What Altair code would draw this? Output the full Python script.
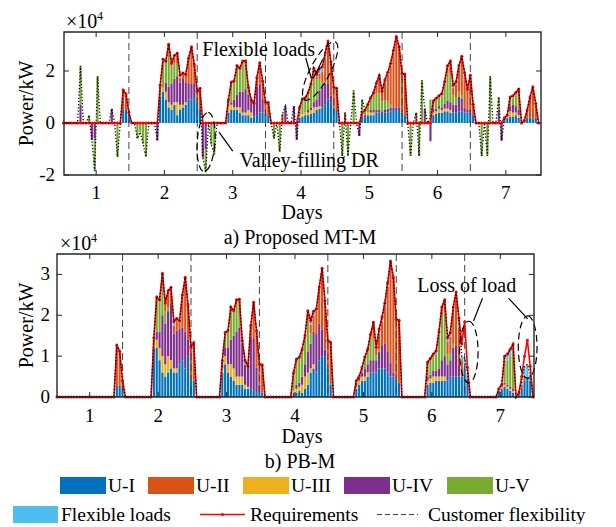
import altair as alt
import pandas as pd

FONT = "Liberation Serif"
UNITS = ["U-I", "U-II", "U-III", "U-IV", "U-V", "Flexible loads"]
COLORS = ["#0072BD", "#D95319", "#EDB120", "#7E2F8E", "#77AC30", "#4DBEEE"]
STACK_ORDER = ["U-I", "U-III", "U-IV", "U-V", "U-II", "Flexible loads"]
DAYS = [1, 2, 3, 4, 5, 6, 7]
FLEX_BOUNDS = [1.48, 2.48, 3.48, 4.48, 5.48, 6.48]
TOP_YTICKS = [-2, 0, 2]
BOT_YTICKS = [0, 1, 2, 3]

# requirement (x1e4 kW), keyed by first hour of each block
REQ = {
    21: [1.27, 1.12, 0.4],
    34: [1.45, 2.45, 2.38, 3.03, 2.3, 2.6, 2.68, 1.85, 1.92, 1.87, 2.5, 2.93, 2.25, 1.22, 1.33],
    58: [0.89, 1.58, 1.62, 2.2, 2.11, 2.38, 2.39, 1.38, 0.89, 0.76, 1.75, 2.32, 1.62, 0.8, 0.79],
    83: [0.6, 0.93, 0.97, 1.17, 1.5, 2.11, 1.87, 2.1, 2.16, 2.69, 3.15, 2.36, 1.38, 1.34],
    105: [0.4, 0.5, 0.72, 0.98, 1.17, 1.54, 1.83, 1.22, 1.66, 1.95, 2.3, 2.8, 3.33, 2.93, 1.9, 1.88],
    130: [0.85, 0.95, 1.05, 1.13, 1.6, 2.2, 2.38, 1.45, 1.58, 2.2, 2.57, 1.93, 1.3, 1.84, 0.72],
    155: [0.2, 0.3, 1.0, 1.05, 1.17, 1.3, 0.0, 0.1, 0.5, 1.0, 1.39, 0.75],
}

# hourly output per unit [U-I, U-II, U-III, U-IV, U-V, Flexible loads] - a) MT-M
TOP_MIX = {
    21: [[0.5, 0.77, 0, 0, 0, 0], [0.5, 0.62, 0, 0, 0, 0], [0.3, 0.1, 0, 0, 0, 0]],
    34: [[1.0, 0, 0, 0, 0.45, 0], [1.2, 0, 0.15, 0, 1.1, 0], [0.9, 0, 0.3, 0.35, 0.83, 0],
         [0.6, 0.1, 0.2, 0.6, 1.53, 0], [0.5, 0.1, 0.2, 0.8, 0.7, 0], [0.7, 0.2, 0.1, 0.9, 0.6, 0.1],
         [0.3, 0.3, 0.5, 1.0, 0.48, 0.1], [0.5, 0.2, 0.2, 0.85, 0, 0.1], [0.6, 0.2, 0.1, 1.02, 0, 0],
         [0.7, 0.3, 0.1, 0.77, 0, 0], [0.9, 1.0, 0, 0.6, 0, 0], [0.9, 1.43, 0, 0.6, 0, 0],
         [1.0, 0.75, 0, 0.5, 0, 0], [0.8, 0.42, 0, 0, 0, 0], [0.5, 0.83, 0, 0, 0, 0]],
    58: [[0.4, 0, 0.2, 0, 0.29, 0], [0.5, 0, 0.2, 0.1, 0.78, 0], [0.5, 0, 0.1, 0.3, 0.72, 0],
         [0.5, 0, 0.1, 0.5, 1.1, 0], [0.4, 0, 0.2, 0.6, 0.91, 0], [0.3, 0, 0.1, 0.8, 1.18, 0],
         [0.3, 0.1, 0.1, 0.9, 0.99, 0], [0.3, 0.1, 0.2, 0.6, 0.18, 0], [0.2, 0, 0.2, 0.49, 0, 0],
         [0.25, 0, 0, 0.51, 0, 0], [0.3, 0.35, 0, 1.1, 0, 0], [0.4, 0.8, 0, 1.12, 0, 0],
         [0.4, 0.7, 0, 0.52, 0, 0], [0.35, 0.45, 0, 0, 0, 0], [0.3, 0.49, 0, 0, 0, 0]],
    83: [[0.2, 0, 0.1, 0, 0.3, 0], [0.25, 0, 0.1, 0, 0.58, 0], [0.3, 0, 0.1, 0, 0.57, 0],
         [0.3, 0, 0.1, 0.1, 0.67, 0], [0.35, 0, 0.15, 0.1, 0.9, 0], [0.4, 0, 0.2, 0.2, 1.21, 0.1],
         [0.5, 0.1, 0.1, 0.3, 0.77, 0.1], [0.55, 0.2, 0.1, 0.6, 0.45, 0.2], [0.6, 0.4, 0, 0.8, 0.16, 0.2],
         [0.7, 0.9, 0, 0.8, 0.09, 0.2], [0.9, 1.5, 0, 0.6, 0, 0.15], [0.8, 1.3, 0, 0.26, 0, 0],
         [0.6, 0.78, 0, 0, 0, 0], [0.5, 0.84, 0, 0, 0, 0]],
    105: [[0.2, 0, 0, 0.1, 0.1, 0], [0.2, 0, 0, 0.1, 0.2, 0], [0.3, 0, 0.1, 0, 0.32, 0],
          [0.3, 0, 0.1, 0.1, 0.48, 0], [0.3, 0.1, 0.1, 0.1, 0.57, 0], [0.4, 0.3, 0, 0.1, 0.64, 0.1],
          [0.4, 0.6, 0, 0.1, 0.63, 0.1], [0.35, 0.4, 0, 0.1, 0.37, 0], [0.4, 0.7, 0, 0.1, 0.36, 0.1],
          [0.4, 1.0, 0, 0.15, 0.3, 0.1], [0.45, 1.5, 0, 0.15, 0.1, 0.1], [0.5, 2.1, 0, 0.1, 0, 0.1],
          [0.5, 2.73, 0, 0.1, 0, 0], [0.5, 2.33, 0, 0.1, 0, 0], [0.4, 1.5, 0, 0, 0, 0], [0.3, 1.58, 0, 0, 0, 0]],
    130: [[0.3, 0, 0.1, 0.15, 0.3, 0], [0.35, 0, 0.1, 0.1, 0.4, 0], [0.4, 0, 0.15, 0.1, 0.4, 0],
          [0.4, 0, 0.1, 0.1, 0.43, 0.1], [0.45, 0, 0.1, 0.2, 0.75, 0.1], [0.45, 0.2, 0.1, 0.3, 1.05, 0.1],
          [0.4, 0.4, 0.1, 0.3, 1.08, 0.1], [0.4, 0.3, 0, 0.3, 0.35, 0.1], [0.4, 0.5, 0, 0.3, 0.28, 0.1],
          [0.45, 0.9, 0, 0.55, 0.2, 0.1], [0.45, 1.4, 0, 0.5, 0.1, 0.12], [0.4, 1.2, 0, 0.2, 0, 0.13],
          [0.4, 0.8, 0, 0.1, 0, 0], [0.4, 1.34, 0, 0.1, 0, 0], [0.3, 0.42, 0, 0, 0, 0]],
    155: [[0.2, 0, 0, 0, 0, 0], [0.2, 0, 0.1, 0, 0, 0], [0.25, 0, 0.2, 0.2, 0.35, 0],
          [0.25, 0, 0.15, 0.3, 0.25, 0.1], [0.3, 0, 0.1, 0.25, 0.42, 0.1], [0.2, 0, 0.1, 0.2, 0.7, 0.1],
          [0, 0, 0, 0, 0, 0], [0.1, 0, 0, 0, 0, 0], [0.2, 0.3, 0, 0, 0, 0], [0.2, 0.8, 0, 0, 0, 0],
          [0.15, 1.24, 0, 0, 0, 0], [0.2, 0.55, 0, 0, 0, 0]],
}

# valley-filling DR actions in a): (hour, unit index, value)
TOP_DR = [
    (6, 3, 0.7), (6, 4, 1.5), (9, 4, 0.3), (10, 3, -0.65), (11, 3, -0.6), (11, 4, -1.25),
    (12, 4, 1.8), (17, 3, 0.55), (19, 4, -1.3),
    (26, 4, -0.6), (27, 4, -0.35), (28, 4, -0.8), (29, 4, -1.3), (33, 3, -0.68),
    (49, 3, -1.34), (50, 3, -1.0), (50, 4, -0.9), (52, 4, -0.83), (53, 4, -1.21),
    (74, 4, -0.6), (76, 4, -1.1), (77, 1, 0.35), (78, 3, 0.65), (81, 3, 0.65), (82, 3, -0.65),
    (98, 4, -1.27), (99, 1, 0.4), (100, 4, -1.27), (102, 4, 1.25), (104, 3, -0.5), (105, 4, 0.5),
    (122, 4, -1.27), (124, 1, 0.4), (125, 4, -1.27), (126, 4, 1.64), (127, 3, 0.55),
    (129, 3, -0.7), (129, 4, 0.9),
    (147, 4, -1.27), (149, 4, -1.27), (150, 4, 1.8), (153, 3, 0.5), (153, 4, 0.5), (154, 3, -0.68),
]

# b) PB-M
BOT_MIX = {
    21: [[0.27, 1.0, 0, 0, 0, 0], [0.27, 0.85, 0, 0, 0, 0], [0.2, 0.2, 0, 0, 0, 0]],
    34: [[1.2, 0, 0.1, 0, 0.15, 0], [1.2, 0, 0.2, 0.2, 0.85, 0], [0.9, 0, 0.3, 0.4, 0.78, 0],
         [0.6, 0, 0.4, 1.0, 0.93, 0.1], [0.5, 0.2, 0.3, 1.0, 0.3, 0], [0.6, 0.4, 0.4, 1.1, 0.1, 0],
         [0.7, 0.3, 0.2, 1.38, 0, 0.1], [0.6, 0.2, 0.1, 0.85, 0, 0.1], [0.6, 0.3, 0.1, 0.92, 0, 0],
         [0.8, 0.2, 0, 0.87, 0, 0], [0.9, 0.8, 0, 0.8, 0, 0], [0.7, 1.33, 0, 0.9, 0, 0],
         [1.0, 0.85, 0, 0.4, 0, 0], [0.4, 0.82, 0, 0, 0, 0], [0.4, 0.93, 0, 0, 0, 0]],
    58: [[0.6, 0, 0.1, 0.1, 0.09, 0], [0.8, 0, 0.2, 0.2, 0.38, 0], [0.6, 0, 0.2, 0.4, 0.42, 0],
         [0.5, 0, 0.3, 0.6, 0.8, 0], [0.4, 0, 0.3, 0.8, 0.61, 0], [0.3, 0, 0.2, 1.1, 0.78, 0],
         [0.3, 0.1, 0.2, 1.2, 0.59, 0], [0.3, 0, 0.2, 0.8, 0, 0.08], [0.2, 0, 0.1, 0.49, 0, 0.1],
         [0.2, 0, 0.05, 0.51, 0, 0], [0.2, 0.3, 0, 1.25, 0, 0], [0.15, 0.9, 0, 1.27, 0, 0],
         [0.1, 0.9, 0, 0.62, 0, 0], [0.1, 0.5, 0, 0.2, 0, 0], [0.1, 0.69, 0, 0, 0, 0]],
    83: [[0.1, 0, 0.05, 0, 0.45, 0], [0.1, 0, 0.1, 0.1, 0.63, 0], [0.15, 0, 0.1, 0.1, 0.62, 0],
         [0.1, 0, 0.2, 0.2, 0.67, 0], [0.2, 0, 0.3, 0.3, 0.7, 0], [0.3, 0.1, 0.3, 0.5, 0.81, 0.1],
         [0.6, 0.2, 0.1, 0.6, 0.27, 0.1], [0.7, 0.4, 0.1, 0.8, 0, 0.1], [0.6, 0.6, 0, 0.96, 0, 0],
         [0.9, 0.9, 0, 0.89, 0, 0], [1.0, 1.5, 0, 0.65, 0, 0], [1.0, 1.2, 0, 0.16, 0, 0],
         [0.7, 0.68, 0, 0, 0, 0], [0.3, 1.04, 0, 0, 0, 0]],
    105: [[0.2, 0, 0.05, 0.1, 0.05, 0], [0.3, 0, 0.1, 0.1, 0, 0], [0.4, 0, 0.1, 0.1, 0.12, 0],
          [0.4, 0, 0.1, 0.2, 0.28, 0], [0.5, 0, 0.1, 0.2, 0.37, 0], [0.6, 0.1, 0, 0.3, 0.54, 0],
          [0.6, 0.3, 0, 0.3, 0.53, 0.1], [0.6, 0.2, 0, 0.3, 0.12, 0], [0.7, 0.4, 0, 0.4, 0.06, 0.1],
          [0.7, 0.6, 0, 0.55, 0, 0.1], [0.7, 0.9, 0, 0.6, 0, 0.1], [0.6, 1.6, 0, 0.5, 0, 0.1],
          [0.5, 2.5, 0, 0.33, 0, 0], [0.5, 2.33, 0, 0.1, 0, 0], [0.4, 1.5, 0, 0, 0, 0], [0.35, 1.53, 0, 0, 0, 0]],
    130: [[0.3, 0, 0.1, 0.1, 0.35, 0], [0.35, 0, 0.1, 0.1, 0.4, 0], [0.35, 0, 0.15, 0.15, 0.4, 0],
          [0.4, 0, 0.1, 0.15, 0.38, 0.1], [0.4, 0, 0.1, 0.2, 0.8, 0.1], [0.4, 0.1, 0.1, 0.4, 1.1, 0.1],
          [0.4, 0.2, 0.1, 0.5, 1.08, 0.1], [0.4, 0.3, 0, 0.4, 0.25, 0.1], [0.5, 0.4, 0, 0.4, 0.18, 0.1],
          [0.5, 0.8, 0, 0.7, 0.1, 0.1], [0.5, 1.2, 0, 0.75, 0, 0.12], [0.5, 0.9, 0, 0.3, 0, 0.2],
          [0.5, 0.4, 0, 0, 0, 0.1], [0.7, 0, 0, 0, 0, 0.25], [0.45, 0, 0, 0, 0, 0.15]],
    155: [[0.15, 0, 0.05, 0, 0, 0], [0.2, 0, 0.05, 0.05, 0, 0], [0.25, 0, 0.05, 0.05, 0.55, 0.1],
          [0.2, 0, 0.05, 0.05, 0.6, 0.15], [0.15, 0, 0.05, 0.05, 0.75, 0.17], [0.1, 0, 0.05, 0.05, 0.9, 0.2],
          [0, 0, 0, 0, 0, 0], [0.05, 0.05, 0, 0, 0, 0], [0.2, 0.1, 0, 0, 0, 0.1], [0.4, 0.1, 0, 0, 0, 0.25],
          [0.5, 0, 0, 0, 0, 0.3], [0.4, 0, 0, 0, 0, 0.16]],
}

W, H = 484, 143
ONE = pd.DataFrame({"a": [0]})
ELLIPSE = "M0,-1 A0.3,1 0 1,1 0,1 A0.3,1 0 1,1 0,-1 Z"
unit_scale = alt.Scale(domain=UNITS, range=COLORS)


def bar_frame(mix, dr):
    rows = []
    for start, block in mix.items():
        for i, vals in enumerate(block):
            for unit, v in zip(UNITS, vals):
                if v:
                    rows.append({"h": start + i, "unit": unit, "v": v})
    for h, u, v in dr:
        rows.append({"h": h, "unit": UNITS[u], "v": v})
    df = pd.DataFrame(rows)
    df["order"] = df["unit"].map({u: i for i, u in enumerate(STACK_ORDER)})
    df = df.sort_values(["h", "order"], kind="stable").reset_index(drop=True)
    pos, neg, v0, v1 = {}, {}, [], []
    for h, v in zip(df["h"], df["v"]):
        base = pos.get(h, 0.0) if v >= 0 else neg.get(h, 0.0)
        if v >= 0:
            pos[h] = base + v
        else:
            neg[h] = base + v
        v0.append(base)
        v1.append(base + v)
    df["v0"] = v0
    df["v1"] = v1
    df["xa"] = 0.5 + (df["h"] + 0.12) / 24
    df["xb"] = 0.5 + (df["h"] + 0.88) / 24
    return df


def hourly(by_hour):
    return pd.DataFrame({"x": [0.5 + (h + 0.5) / 24 for h in range(168)],
                         "v": [by_hour.get(h, 0.0) for h in range(168)]})


req_by_hour = {s + i: v for s, blk in REQ.items() for i, v in enumerate(blk)}
req_df = hourly(req_by_hour)


def txt(s, x, y, size=20, align="center", baseline="middle", angle=0):
    return alt.Chart(ONE).mark_text(text=s, font=FONT, fontSize=size, align=align,
                                    baseline=baseline, color="black", angle=angle).encode(
        x=alt.value(x), y=alt.value(y))


def panel(df, xrange, bx, ydomain, yticks, ylab_x, xlab_y, annotations):
    xs = alt.Scale(domain=[0.5, 7.5], range=xrange, nice=False, zero=False)
    ys = alt.Scale(domain=ydomain, nice=False, zero=False)
    X = lambda f: alt.X(f, scale=xs, axis=None)
    Y = lambda f: alt.Y(f, scale=ys, axis=None)
    net = df.groupby("h")["v"].sum().to_dict()
    net_df = hourly(net)

    bars = alt.Chart(df).mark_bar(strokeWidth=0).encode(
        x=X("xa:Q"), x2="xb:Q", y=Y("v0:Q"), y2="v1:Q",
        color=alt.Color("unit:N", scale=unit_scale, legend=None))
    flex = alt.Chart(pd.DataFrame({"d": FLEX_BOUNDS})).mark_rule(
        color="#404040", strokeWidth=1, strokeDash=[7, 4]).encode(
        x=X("d:Q"), y=alt.value(0), y2=alt.value(H))
    req_line = alt.Chart(req_df).mark_line(color="#FF0000", strokeWidth=1.6).encode(
        x=X("x:Q"), y=Y("v:Q"))
    req_pts = alt.Chart(req_df).mark_circle(color="#FF0000", size=9, opacity=1).encode(
        x=X("x:Q"), y=Y("v:Q"))
    net_line = alt.Chart(net_df).mark_line(color="black", strokeWidth=1.3, strokeDash=[1.2, 2]).encode(
        x=X("x:Q"), y=Y("v:Q"))
    box = alt.Chart(ONE).mark_rect(fillOpacity=0, stroke="#262626", strokeWidth=1.4).encode(
        x=alt.value(bx), x2=alt.value(bx + 477), y=alt.value(0), y2=alt.value(H))
    dticks = pd.DataFrame({"d": DAYS, "lab": [str(d) for d in DAYS]})
    yt = pd.DataFrame({"t": yticks, "lab": [str(t) for t in yticks]})
    guide_layers = [
        alt.Chart(dticks).mark_rule(color="#262626").encode(
            x=X("d:Q"), y=alt.value(0), y2=alt.value(5)),
        alt.Chart(dticks).mark_rule(color="#262626").encode(
            x=X("d:Q"), y=alt.value(H - 5), y2=alt.value(H)),
        alt.Chart(yt).mark_rule(color="#262626").encode(
            y=Y("t:Q"), x=alt.value(bx), x2=alt.value(bx + 5)),
        alt.Chart(yt).mark_rule(color="#262626").encode(
            y=Y("t:Q"), x=alt.value(bx + 472), x2=alt.value(bx + 477)),
        alt.Chart(dticks).mark_text(font=FONT, fontSize=19, color="black", baseline="middle").encode(
            x=X("d:Q"), y=alt.value(xlab_y), text="lab:N"),
        alt.Chart(yt).mark_text(font=FONT, fontSize=19, color="black", align="right",
                                baseline="middle").encode(
            y=Y("t:Q"), x=alt.value(ylab_x), text="lab:N"),
        txt("Power/kW", -24, H / 2, 20, "center", "alphabetic", 270),
    ]
    ann_layers = []
    for a in annotations:
        kind = a[0]
        if kind == "text":
            _, s, x, y = a
            ann_layers.append(alt.Chart(pd.DataFrame({"x": [x], "y": [y]})).mark_text(
                text=s, font=FONT, fontSize=20, color="black").encode(x=X("x:Q"), y=Y("y:Q")))
        elif kind == "ellipse":
            _, x, y, size, ang = a
            ann_layers.append(alt.Chart(pd.DataFrame({"x": [x], "y": [y]})).mark_point(
                shape=ELLIPSE, filled=False, stroke="black", strokeWidth=1.2, strokeDash=[7, 4],
                size=size, angle=ang, opacity=1).encode(x=X("x:Q"), y=Y("y:Q")))
        elif kind == "line":
            _, x1, y1, x2, y2 = a
            ann_layers.append(alt.Chart(pd.DataFrame({"x": [x1], "y": [y1], "x2": [x2], "y2": [y2]})).mark_rule(
                color="black", strokeWidth=1.2).encode(x=X("x:Q"), y=Y("y:Q"), x2="x2:Q", y2="y2:Q"))
    return [bars, flex, req_line, req_pts, net_line] + ann_layers + [box] + guide_layers


top_df = bar_frame(TOP_MIX, TOP_DR)
bot_df = bar_frame(BOT_MIX, [])

top_ann = [
    ("ellipse", 4.28, 2.0, 4300, 28),
    ("ellipse", 2.61, -0.73, 3500, 4),
    ("text", "Flexible loads", 3.38, 2.81),
    ("text", "Valley-filling DR", 4.12, -1.46),
    ("line", 4.07, 2.5, 4.15, 1.72),
    ("line", 4.18, 1.72, 4.32, 2.45),
    ("line", 2.80, -0.35, 3.0, -1.08),
]
bot_ann = [
    ("ellipse", 6.54, 1.10, 3800, 0),
    ("ellipse", 7.40, 1.22, 3900, 0),
    ("text", "Loss of load", 6.51, 2.72),
    ("line", 6.74, 2.42, 6.61, 1.86),
    ("line", 7.12, 2.42, 7.40, 1.91),
]

top_layers = panel(top_df, [5, 483], 7, [-2, 3.5], TOP_YTICKS, -2, H + 18, top_ann)
top_layers += [
    txt("\u00d710", 9, -4, 20, "left", "alphabetic"),
    txt("4", 40, -12, 12, "left", "alphabetic"),
    txt("Days", 245, 181),
    txt("a) Proposed MT-M", 243, 206),
    alt.Chart(ONE).mark_rule(strokeOpacity=0).encode(
        x=alt.value(-49), x2=alt.value(-48), y=alt.value(-24), y2=alt.value(-23)),
]

bot_layers = panel(bot_df, [-1.5, 477.5], 0, [0, 3.5], BOT_YTICKS, -7, H + 19, bot_ann)
bot_layers += [
    txt("\u00d710", 3, -4, 20, "left", "alphabetic"),
    txt("4", 34, -12, 12, "left", "alphabetic"),
    txt("Days", 245, 183),
    txt("b) PB-M", 243, 208),
]

# legend (drawn below the lower panel)
R1, R2 = 231.5, 260.5
row1 = [("U-I", 3), ("U-II", 91), ("U-III", 186), ("U-IV", 287), ("U-V", 390)]
for (name, x0) in row1:
    color = COLORS[UNITS.index(name)]
    bot_layers.append(alt.Chart(ONE).mark_rect(color=color).encode(
        x=alt.value(x0), x2=alt.value(x0 + 46), y=alt.value(R1 - 8.5), y2=alt.value(R1 + 8.5)))
    bot_layers.append(txt(name, x0 + 48, R1, 19.5, "left"))
bot_layers.append(alt.Chart(ONE).mark_rect(color=COLORS[5]).encode(
    x=alt.value(-44), x2=alt.value(1), y=alt.value(R2 - 8.5), y2=alt.value(R2 + 8.5)))
bot_layers.append(txt("Flexible loads", 4, R2, 19.5, "left"))
bot_layers.append(alt.Chart(ONE).mark_rule(color="#FF0000", strokeWidth=1.4).encode(
    x=alt.value(143), x2=alt.value(188), y=alt.value(R2), y2=alt.value(R2)))
bot_layers.append(alt.Chart(ONE).mark_circle(color="#FF0000", size=10, opacity=1).encode(
    x=alt.value(165.5), y=alt.value(R2)))
bot_layers.append(txt("Requirements", 193, R2, 19.5, "left"))
bot_layers.append(alt.Chart(ONE).mark_rule(color="#404040", strokeWidth=1, strokeDash=[5, 3]).encode(
    x=alt.value(320), x2=alt.value(361), y=alt.value(R2), y2=alt.value(R2)))
bot_layers.append(txt("Customer flexibility", 371, R2, 19.5, "left"))

top = alt.layer(*top_layers).properties(width=W, height=H)
bottom = alt.layer(*bot_layers).properties(width=W, height=H)

chart = alt.vconcat(top, bottom, spacing=79, bounds="flush").properties(
    padding=0).configure_view(strokeWidth=0)

chart.save("out.html", embed_options={"renderer": "svg", "actions": False})
